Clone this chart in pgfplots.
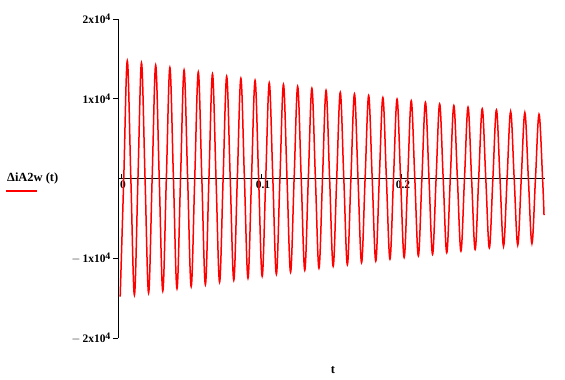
\documentclass[border=0pt]{standalone}
\usepackage{pgfplots}
\pgfplotsset{compat=1.18}
\usepackage{fontspec}
\setmainfont{Liberation Serif}
\newcommand{\sci}[1]{#1x10\raisebox{0.6ex}{\fontsize{10}{10}\selectfont 4}}
\begin{document}
\begin{tikzpicture}[x=1bp,y=1bp]
\path[use as bounding box] (-118,-41) rectangle (447,338);
\begin{axis}[
  at={(0,0)}, anchor=south west,
  width=427bp, height=319bp, scale only axis,
  xmin=-0.0025, xmax=0.3025, ymin=-20000, ymax=20000,
  axis x line=middle, axis y line=left,
  axis line style={-, line width=0.8bp, black},
  hide obscured x ticks=false,
  scaled y ticks=false, scaled x ticks=false,
  xtick={0,0.1,0.2}, xticklabels={0,0.1,0.2},
  ytick={-20000,-10000,10000,20000},
  yticklabels={{$-$\,\sci{2}},{$-$\,\sci{1}},{\sci{1}},{\sci{2}}},
  tick style={black, line width=0.8bp},
  major tick length=5bp,
  ytick align=outside,
  xtick align=inside,
  ticklabel style={font=\bfseries\fontsize{11.5}{13}\selectfont},
  x tick label style={yshift=1bp, xshift=1.5bp},
  y tick label style={xshift=1bp},
  clip=false,
]
\addplot[red, line width=1.5bp, smooth, tension=0.6] coordinates {
(-0.00093,-14800)
(0.00161,0) (0.00414,14750) (0.00668,0)
(0.00921,-14600) (0.01175,0) (0.01428,14500) (0.01682,0)
(0.01935,-14350) (0.02189,0) (0.02442,14200) (0.02696,0)
(0.02949,-14100) (0.03203,0) (0.03456,13900) (0.03710,0)
(0.03963,-13800) (0.04217,0) (0.04470,13600) (0.04724,0)
(0.04978,-13550) (0.05231,0) (0.05485,13350) (0.05738,0)
(0.05992,-13300) (0.06245,0) (0.06499,13100) (0.06752,0)
(0.07006,-13000) (0.07259,0) (0.07513,12800) (0.07766,0)
(0.08020,-12750) (0.08273,0) (0.08527,12550) (0.08780,0)
(0.09034,-12500) (0.09287,0) (0.09541,12300) (0.09794,0)
(0.10048,-12250) (0.10302,0) (0.10555,12000) (0.10809,0)
(0.11062,-12000) (0.11316,0) (0.11569,11800) (0.11823,0)
(0.12076,-11750) (0.12330,0) (0.12583,11550) (0.12837,0)
(0.13090,-11500) (0.13344,0) (0.13597,11300) (0.13851,0)
(0.14104,-11250) (0.14358,0) (0.14611,11050) (0.14865,0)
(0.15119,-11000) (0.15372,0) (0.15626,10800) (0.15879,0)
(0.16133,-10800) (0.16386,0) (0.16640,10600) (0.16893,0)
(0.17147,-10550) (0.17400,0) (0.17654,10400) (0.17907,0)
(0.18161,-10350) (0.18414,0) (0.18668,10150) (0.18921,0)
(0.19175,-10100) (0.19428,0) (0.19682,9950) (0.19935,0)
(0.20189,-9900) (0.20443,0) (0.20696,9750) (0.20950,0)
(0.21203,-9700) (0.21457,0) (0.21710,9550) (0.21964,0)
(0.22217,-9500) (0.22471,0) (0.22724,9350) (0.22978,0)
(0.23231,-9300) (0.23485,0) (0.23738,9150) (0.23992,0)
(0.24245,-9100) (0.24499,0) (0.24752,8950) (0.25006,0)
(0.25260,-8900) (0.25513,0) (0.25767,8750) (0.26020,0)
(0.26274,-8700) (0.26527,0) (0.26781,8600) (0.27034,0)
(0.27288,-8500) (0.27541,0) (0.27795,8400) (0.28048,0)
(0.28302,-8350) (0.28555,0) (0.28809,8250) (0.29062,0)
(0.29316,-8150) (0.29569,0) (0.29823,8050) (0.30076,0)
(0.3018,-4600)
};
\end{axis}
\node[anchor=west, font=\bfseries\fontsize{12.5}{14}\selectfont, inner sep=0pt] at (-111,159) {ΔiA2w (t)};
\draw[red, line width=1.5bp] (-112,147) -- (-81,147);
\node[font=\bfseries\fontsize{12.5}{14}\selectfont, inner sep=0pt] at (215,-32) {t};
\end{tikzpicture}
\end{document}
